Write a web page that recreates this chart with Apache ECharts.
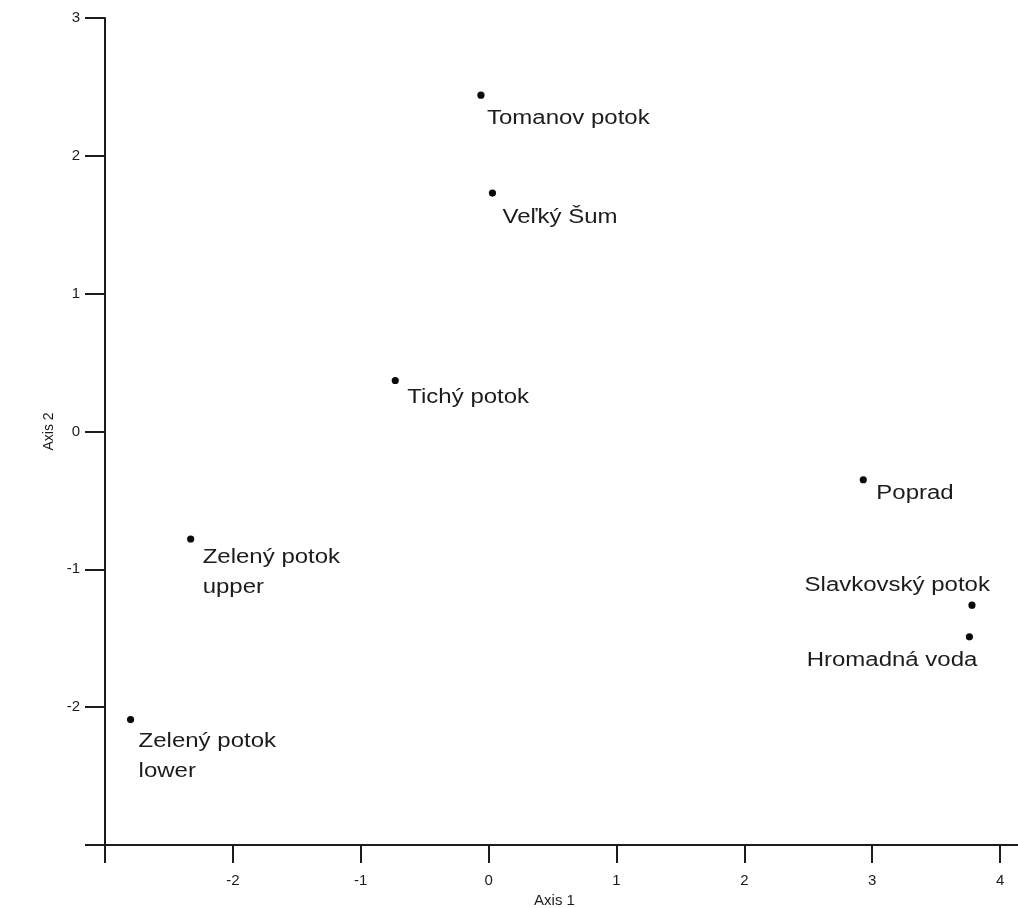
<!DOCTYPE html>
<html>
<head>
<meta charset="utf-8">
<title>Ordination of sampling sites</title>
<script src="https://cdn.jsdelivr.net/npm/echarts@6/dist/echarts.min.js"></script>
<style>
  html, body { margin: 0; padding: 0; background: #fff; }
  #chart { width: 1018px; height: 908px; }
</style>
</head>
<body>
<div id="chart"></div>
<script>
// Site scores on the first two ordination axes
const sites = [
  'Tomanov potok',
  'Veľký Šum',
  'Tichý potok',
  'Poprad',
  'Slavkovský potok',
  'Hromadná voda',
  'Zelený potok\nupper',
  'Zelený potok\nlower'
];
const axis1Scores = [-0.06, 0.03, -0.73, 2.93, 3.78, 3.76, -2.33, -2.80];
const axis2Scores = [2.44, 1.73, 0.37, -0.35, -1.26, -1.49, -0.78, -2.09];

// Tick positions and which of them carry labels
const xTicks = [-3, -2, -1, 0, 1, 2, 3, 4];
const xTickLabels = [-2, -1, 0, 1, 2, 3, 4];
const yTicks = [-3, -2, -1, 0, 1, 2, 3];
const yTickLabels = [-2, -1, 0, 1, 2, 3];

// Where each site name sits relative to its point (pixels, first-line centre)
const labelPlacement = [
  { dx: 6,  dy: 23,  align: 'left' },
  { dx: 10, dy: 24,  align: 'left' },
  { dx: 12, dy: 17,  align: 'left' },
  { dx: 13, dy: 14,  align: 'left' },
  { dx: 18, dy: -20, align: 'right' },
  { dx: 8,  dy: 24,  align: 'right' },
  { dx: 12, dy: 18,  align: 'left' },
  { dx: 8,  dy: 22,  align: 'left' }
];

const ink = '#1c1c1c';
const fontFamily = '"Liberation Sans", Arial, Helvetica, sans-serif';
const lineH = 30;

const chart = echarts.init(document.getElementById('chart'), null, { renderer: 'canvas' });

chart.setOption({
  animation: false,
  backgroundColor: '#ffffff',
  grid: { left: 105, right: 0, top: 18, bottom: 63, containLabel: false, outerBoundsMode: 'none' },
  xAxis: {
    type: 'value',
    min: -3,
    max: 4.14,
    interval: 1,
    name: 'Axis 1',
    nameLocation: 'middle',
    nameGap: 47,
    nameTextStyle: { color: ink, fontSize: 15, fontFamily: fontFamily, padding: [0, 14, 0, 0] },
    axisLine: { show: true, onZero: false, lineStyle: { color: ink, width: 2 } },
    axisTick: { show: true, length: 18, customValues: xTicks, lineStyle: { color: ink, width: 2 } },
    axisLabel: { customValues: xTickLabels, margin: 28, color: ink, fontSize: 15, fontFamily: fontFamily },
    splitLine: { show: false }
  },
  yAxis: {
    type: 'value',
    min: -3,
    max: 3,
    interval: 1,
    name: 'Axis 2',
    nameLocation: 'middle',
    nameGap: 47,
    nameTextStyle: { color: ink, fontSize: 14, fontFamily: fontFamily },
    axisLine: { show: true, onZero: false, lineStyle: { color: ink, width: 2 } },
    axisTick: { show: true, length: 20, customValues: yTicks, lineStyle: { color: ink, width: 2 } },
    axisLabel: { customValues: yTickLabels, margin: 25, color: ink, fontSize: 15, fontFamily: fontFamily },
    splitLine: { show: false }
  },
  series: [{
    type: 'custom',
    coordinateSystem: 'cartesian2d',
    clip: false,
    data: axis1Scores.map((x, i) => [x, axis2Scores[i], i]),
    renderItem: function (params, api) {
      const idx = api.value(2);
      const pt = api.coord([api.value(0), api.value(1)]);
      const place = labelPlacement[idx];
      return {
        type: 'group',
        children: [
          {
            type: 'circle',
            shape: { cx: pt[0], cy: pt[1], r: 3.6 },
            style: { fill: '#0a0a0a' }
          },
          {
            type: 'text',
            x: pt[0] + place.dx,
            y: pt[1] + place.dy - lineH / 2,
            scaleX: 1.2,
            style: {
              text: sites[idx],
              fill: ink,
              font: '20px ' + fontFamily,
              align: place.align,
              verticalAlign: 'top',
              lineHeight: lineH
            }
          }
        ]
      };
    }
  }]
});
</script>
</body>
</html>
